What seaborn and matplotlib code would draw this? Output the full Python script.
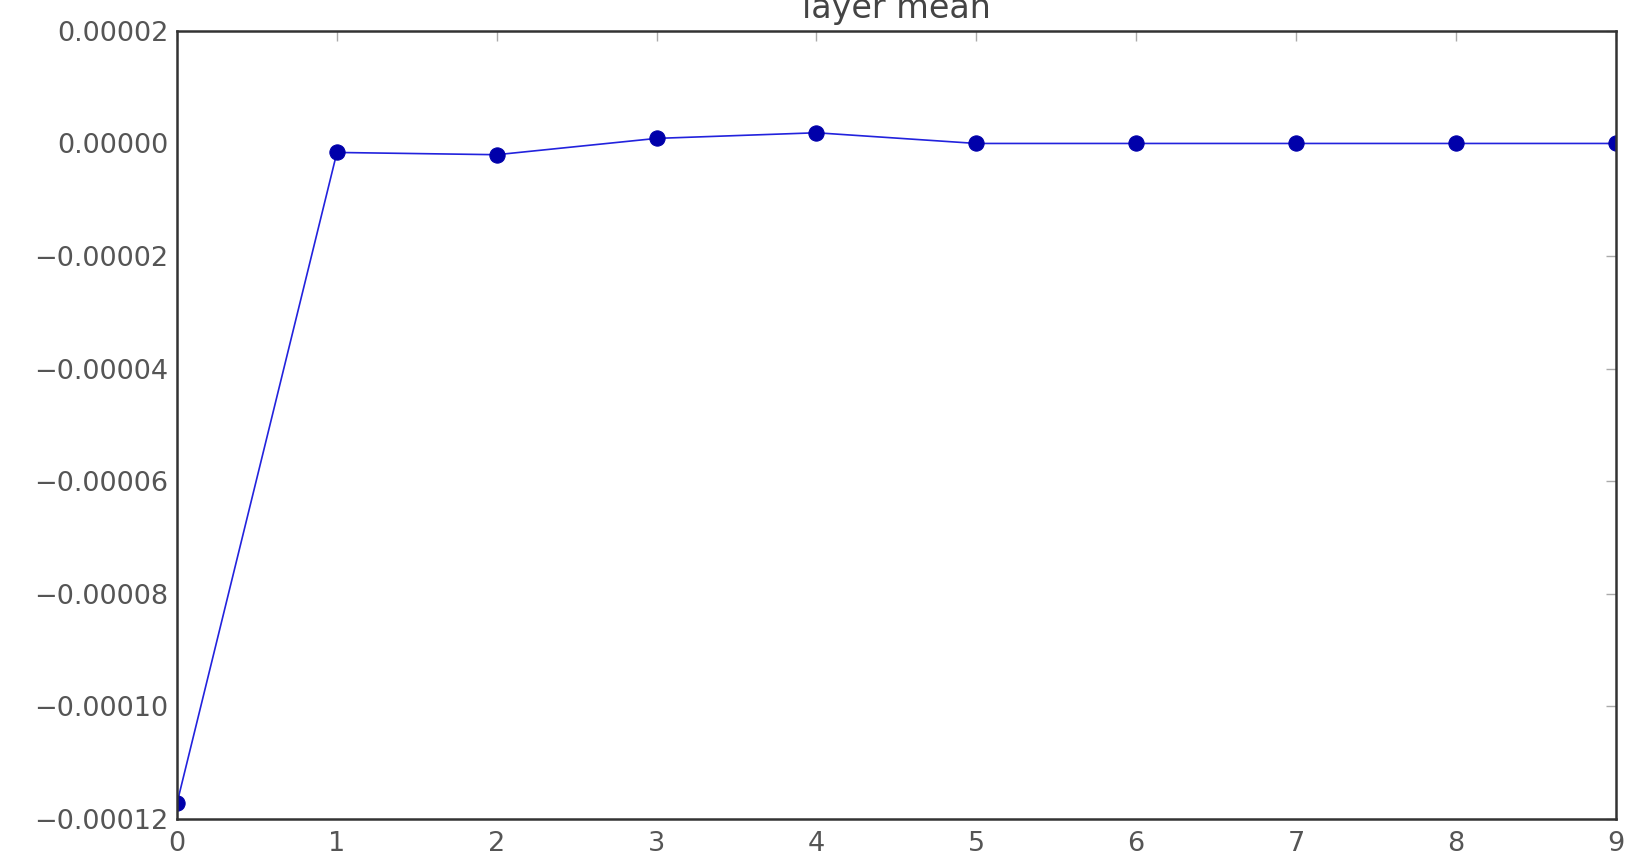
"""Layer mean per layer index"""
import matplotlib
matplotlib.use('Agg')
import matplotlib.pyplot as plt
import seaborn as sns

# values
layers = [0, 1, 2, 3, 4, 5, 6, 7, 8, 9]
layer_mean = [-0.0001172, -0.0000016, -0.0000020, 0.0000009, 0.0000019,
              0.0, 0.0, 0.0, 0.0, 0.0]
y_ticks = [-0.00012, -0.00010, -0.00008, -0.00006, -0.00004, -0.00002, 0.0, 0.00002]

sns.set_style('white')
plt.rcParams['font.family'] = ['DejaVu Sans']

figure = plt.figure(figsize=(16.32, 8.59), dpi=100)
axes = figure.add_axes([0.1085, 0.047, 0.8815, 0.917])

sns.lineplot(x=layers, y=layer_mean, ax=axes, color='#2222dd', linewidth=1.2,
             marker='o', markersize=11, markeredgecolor='#0000aa', markerfacecolor='#0000aa')

axes.set_xlim(0, 9)
axes.set_ylim(-0.00012, 0.00002)
axes.set_xticks(layers)
axes.set_yticks(y_ticks)
axes.set_yticklabels([f'{v:.5f}'.replace('-', '\u2212') if v != 0 else '0.00000' for v in y_ticks])
axes.tick_params(direction='in', length=7, width=1, top=True, right=True,
                 labelsize=19.5, labelcolor='#555555', color='#aaaaaa')
axes.tick_params(axis='y', pad=6)
axes.tick_params(axis='x', pad=9)
for spine in axes.spines.values():
    spine.set_color('#333333')
    spine.set_linewidth(1.8)

axes.set_title('layer mean', fontsize=24, color='#444444', pad=9)

figure.savefig('out.png', dpi=100)
